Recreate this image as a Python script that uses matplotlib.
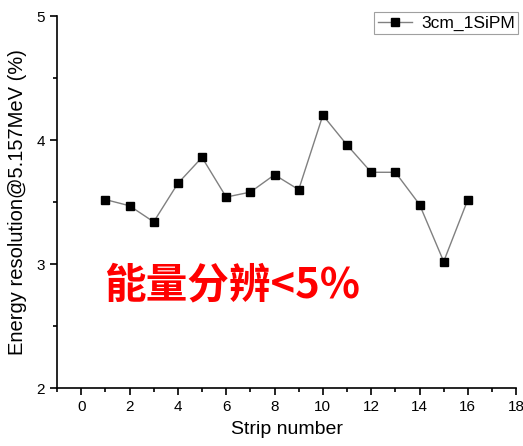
import matplotlib
matplotlib.use("Agg")
import matplotlib.pyplot as plt
from matplotlib.ticker import MultipleLocator

# strip scan, 3 cm crystal read by one SiPM
strips = [1, 2, 3, 4, 5, 6, 7, 8, 9, 10, 11, 12, 13, 14, 15, 16]
resolution = [3.52, 3.47, 3.34, 3.65, 3.86, 3.54, 3.58, 3.72, 3.60,
              4.20, 3.96, 3.74, 3.74, 3.48, 3.02, 3.52]
series_name = "3cm_1SiPM"
note = "能量分辨<5%"

plt.rcParams['font.family'] = ['Liberation Sans', 'DejaVu Sans']

fig = plt.figure(figsize=(5.23, 4.46), dpi=100)
ax = fig.add_axes([0.109, 0.130, 0.878, 0.834])

ax.plot(strips, resolution, color='#808080', lw=1.0, marker='s', ms=6,
        mfc='black', mec='black', label=series_name)

ax.set_xlim(-1, 18)
ax.set_ylim(2, 5)
ax.xaxis.set_major_locator(MultipleLocator(2))
ax.xaxis.set_minor_locator(MultipleLocator(1))
ax.yaxis.set_major_locator(MultipleLocator(1))
ax.yaxis.set_minor_locator(MultipleLocator(0.5))
ax.tick_params(which='major', direction='out', length=5, width=1.2, labelsize=11)
ax.tick_params(which='minor', direction='out', length=3, width=1.2)

for side in ('top', 'right'):
    ax.spines[side].set_visible(False)
for side in ('left', 'bottom'):
    ax.spines[side].set_linewidth(1.2)

ax.set_xlabel("Strip number", fontsize=14, labelpad=5)
ax.set_ylabel("Energy resolution@5.157MeV (%)", fontsize=14.5, labelpad=7)

leg = ax.legend(loc='upper right', bbox_to_anchor=(1.012, 1.02), fontsize=12.5,
                fancybox=False, edgecolor='#a0a0a0', framealpha=1,
                handlelength=2.0, handletextpad=0.5, borderpad=0.2,
                borderaxespad=0.2)
leg.get_frame().set_linewidth(0.8)

# red annotation inside the plot area
ax.text(0.95, 2.83, note, fontsize=30, fontweight='bold', color='red',
        family=['Noto Sans CJK SC', 'DejaVu Sans'], va='center', ha='left')

fig.savefig("out.png", dpi=100)
